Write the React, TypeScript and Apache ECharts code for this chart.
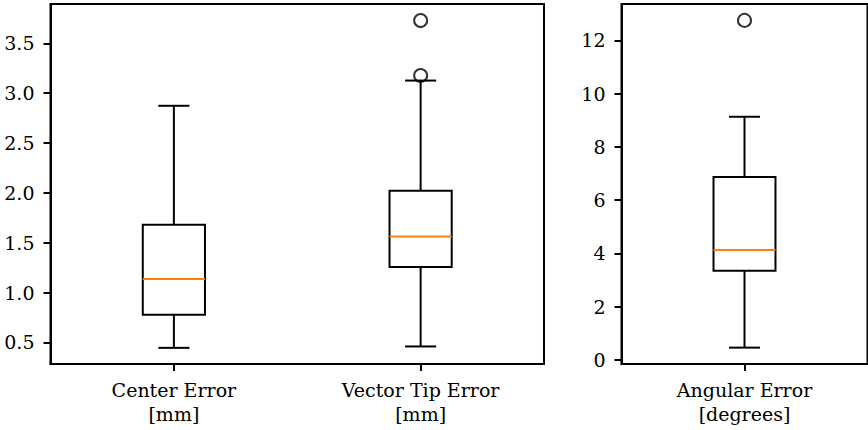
import React, { useEffect, useRef } from "react";
import * as echarts from "echarts";

// ---- data ----
const leftCategories = ["Center Error\n[mm]", "Vector Tip Error\n[mm]"];
const rightCategories = ["Angular Error\n[degrees]"];

// [min whisker, Q1, median, Q3, max whisker]
const centerError = [0.446, 0.777, 1.136, 1.68, 2.874];
const vectorTipError = [0.46, 1.256, 1.563, 2.021, 3.127];
const angularError = [0.46, 3.35, 4.13, 6.87, 9.13];

const vectorTipOutliers = [3.729, 3.178];
const angularOutliers = [12.75];

const leftTicks = [0.5, 1.0, 1.5, 2.0, 2.5, 3.0, 3.5];
const rightTicks = [0, 2, 4, 6, 8, 10, 12];

const FONT = "DejaVu Serif";
const FS = 19;

function boxRender(params: any, api: any) {
  const idx = api.value(0);
  const lo = api.coord([idx, api.value(1)]);
  const q1 = api.coord([idx, api.value(2)]);
  const med = api.coord([idx, api.value(3)]);
  const q3 = api.coord([idx, api.value(4)]);
  const hi = api.coord([idx, api.value(5)]);
  const band = api.size([1, 0])[0];
  const bw = band * 0.252;
  const cw = bw / 2;
  const x = lo[0];
  const s = { stroke: "#000", lineWidth: 2, fill: "none" };
  return {
    type: "group",
    children: [
      { type: "line", shape: { x1: x, y1: hi[1], x2: x, y2: q3[1] }, style: s },
      { type: "line", shape: { x1: x, y1: q1[1], x2: x, y2: lo[1] }, style: s },
      { type: "line", shape: { x1: x - cw / 2, y1: hi[1], x2: x + cw / 2, y2: hi[1] }, style: s },
      { type: "line", shape: { x1: x - cw / 2, y1: lo[1], x2: x + cw / 2, y2: lo[1] }, style: s },
      {
        type: "rect",
        shape: { x: x - bw / 2, y: q3[1], width: bw, height: q1[1] - q3[1] },
        style: { stroke: "#000", lineWidth: 2, fill: "none" },
      },
      {
        type: "line",
        shape: { x1: x - bw / 2, y1: med[1], x2: x + bw / 2, y2: med[1] },
        style: { stroke: "#ff7f0e", lineWidth: 2 },
      },
    ],
  };
}

export default function App() {
  const ref = useRef<HTMLDivElement>(null);
  useEffect(() => {
    if (!ref.current) return;
    const chart = echarts.init(ref.current, null, { renderer: "svg" });
    const textStyle = { fontFamily: FONT, fontSize: FS, color: "#000" };
    const xAxisBase = (gridIndex: number, data: string[]) => ({
      type: "category",
      gridIndex,
      data,
      boundaryGap: true,
      axisLine: { show: true, onZero: false, lineStyle: { color: "#000", width: 2 } },
      axisTick: { show: true, alignWithLabel: true, length: 7, lineStyle: { color: "#000", width: 2 } },
      axisLabel: { ...textStyle, margin: 14, lineHeight: 24, interval: 0 },
      splitLine: { show: false },
    });
    const yAxisBase = (gridIndex: number, min: number, max: number, ticks: number[], dec: number) => ({
      type: "value",
      gridIndex,
      min,
      max,
      axisLine: { show: true, onZero: false, lineStyle: { color: "#000", width: 2 } },
      axisTick: { show: true, length: 7, customValues: ticks, lineStyle: { color: "#000", width: 2 } },
      axisLabel: {
        ...textStyle,
        margin: 16,
        customValues: ticks,
        formatter: (v: number) => v.toFixed(dec),
      },
      splitLine: { show: false },
    });
    const leftData = [
      [0, ...centerError],
      [1, ...vectorTipError],
    ];
    const rightData = [[0, ...angularError]];
    chart.setOption({
      animation: false,
      backgroundColor: "#fff",
      grid: [
        { left: 50.5, top: 4, width: 493.5, height: 360, show: true, borderColor: "#000", borderWidth: 2 },
        { left: 621.5, top: 4, width: 246, height: 360, show: true, borderColor: "#000", borderWidth: 2 },
      ],
      xAxis: [xAxisBase(0, leftCategories), xAxisBase(1, rightCategories)],
      yAxis: [
        yAxisBase(0, 0.284, 3.895, leftTicks, 1),
        yAxisBase(1, -0.155, 13.365, rightTicks, 0),
      ],
      series: [
        {
          type: "custom",
          xAxisIndex: 0,
          yAxisIndex: 0,
          renderItem: boxRender,
          data: leftData,
          encode: { x: 0, y: [1, 2, 3, 4, 5] },
          clip: false,
        },
        {
          type: "custom",
          xAxisIndex: 1,
          yAxisIndex: 1,
          renderItem: boxRender,
          data: rightData,
          encode: { x: 0, y: [1, 2, 3, 4, 5] },
          clip: false,
        },
        {
          type: "scatter",
          xAxisIndex: 0,
          yAxisIndex: 0,
          symbol: "circle",
          symbolSize: 13,
          itemStyle: { color: "none", borderColor: "#000", borderWidth: 2 },
          data: vectorTipOutliers.map((v) => [1, v]),
          z: 5,
        },
        {
          type: "scatter",
          xAxisIndex: 1,
          yAxisIndex: 1,
          symbol: "circle",
          symbolSize: 13,
          itemStyle: { color: "none", borderColor: "#000", borderWidth: 2 },
          data: angularOutliers.map((v) => [0, v]),
          z: 5,
        },
      ],
    });
    return () => chart.dispose();
  }, []);
  return (
    <div
      ref={ref}
      style={{ position: "absolute", left: 0, top: 0, width: 868, height: 430, background: "#fff" }}
    />
  );
}
